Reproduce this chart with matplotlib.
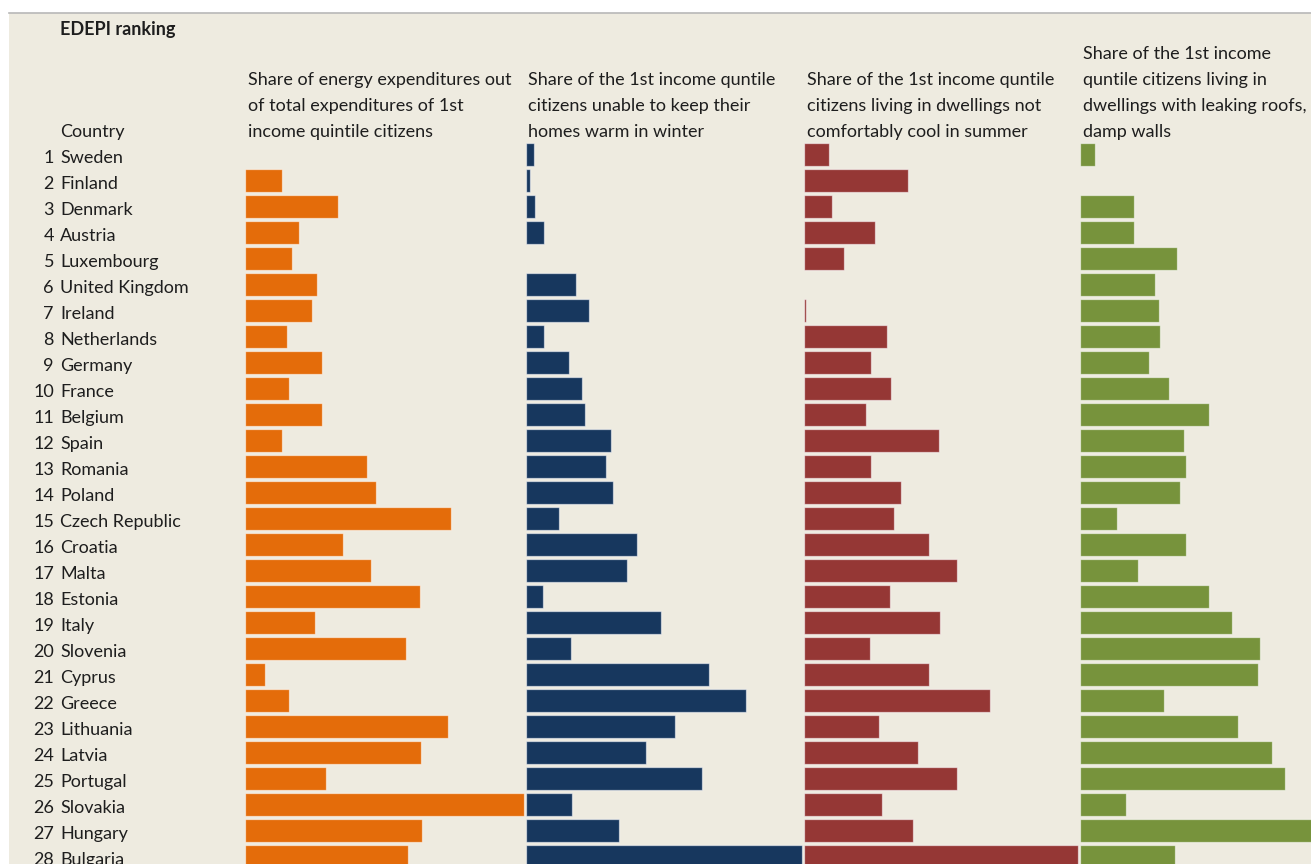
import matplotlib
matplotlib.use('Agg')
import matplotlib.pyplot as plt
from matplotlib.patches import Rectangle
from matplotlib.lines import Line2D

# ---------------- data ----------------
countries = ["Sweden", "Finland", "Denmark", "Austria", "Luxembourg", "United Kingdom",
             "Ireland", "Netherlands", "Germany", "France", "Belgium", "Spain", "Romania",
             "Poland", "Czech Republic", "Croatia", "Malta", "Estonia", "Italy", "Slovenia",
             "Cyprus", "Greece", "Lithuania", "Latvia", "Portugal", "Slovakia", "Hungary",
             "Bulgaria"]
ranks = list(range(1, 29))

# Share of energy expenditures out of total expenditures of 1st quintile (%)
energy_share = [0.0, 1.84, 4.68, 2.71, 2.37, 3.59, 3.37, 2.12, 3.88, 2.22, 3.88, 1.85, 6.10,
                6.58, 10.33, 4.91, 6.32, 8.77, 3.51, 8.07, 1.02, 2.22, 10.19, 8.82, 4.08,
                14.0, 8.89, 8.16]
# Share of 1st quintile unable to keep home warm in winter (%)
cold_winter = [1.9, 1.0, 2.1, 4.2, 0.0, 12.0, 15.0, 4.3, 10.2, 13.4, 14.1, 20.5, 19.2,
               20.8, 8.0, 26.6, 24.2, 4.0, 32.3, 10.9, 44.0, 52.8, 35.7, 28.9, 42.3,
               11.0, 22.3, 66.3]
# Share of 1st quintile living in dwellings not comfortably cool in summer (%)
hot_summer = [4.9, 20.7, 5.5, 14.2, 7.9, 0.0, 0.3, 16.5, 13.4, 17.3, 12.3, 26.9, 13.4,
              19.3, 18.0, 25.0, 30.5, 17.2, 27.1, 13.1, 24.9, 37.2, 14.9, 22.7, 30.5,
              15.5, 21.7, 54.7]
# Share of 1st quintile living in dwellings with leaking roofs, damp walls (%)
leaking_roofs = [2.3, 0.0, 8.1, 8.1, 14.6, 11.3, 11.8, 12.0, 10.4, 13.4, 19.4, 15.6, 15.9,
                 15.0, 5.6, 15.9, 8.7, 19.4, 22.8, 27.1, 26.8, 12.6, 23.7, 28.9, 30.8,
                 6.9, 41.0, 14.3]

headers = [
    ["Share of energy expenditures out", "of total expenditures of 1st",
     "income quintile citizens"],
    ["Share of the 1st income quntile", "citizens unable to keep their",
     "homes warm in winter"],
    ["Share of the 1st income quntile", "citizens living in dwellings not",
     "comfortably cool in summer"],
    ["Share of the 1st income", "quntile citizens living in",
     "dwellings with leaking roofs,", "damp walls"],
]
series = [energy_share, cold_winter, hot_summer, leaking_roofs]

# ---------------- style / layout ----------------
W, H = 1311, 864
colors = ['#E46C0A', '#17375E', '#953735', '#77933C']
bg = '#EEEBE0'
txt = '#1e1e1e'
font = 'Lato'
fs = 13.0
xmax = [14.09, 66.7, 55.2, 41.9]
panel_left = [245, 526, 804, 1080]
panel_width = [281, 278, 276, 279]
header_x = [248, 528, 807, 1083]
axes_top, row_h = 141.8, 26.0
dy = 2.0  # text baseline tweak

fig = plt.figure(figsize=(W / 100, H / 100), dpi=100)
fig.patch.set_facecolor('white')

def fx(x):
    return x / W

def fy(y):
    return 1 - y / H

# beige panel + top rule
fig.patches.append(Rectangle((fx(9), 0), 1, fy(12.5), transform=fig.transFigure,
                             facecolor=bg, edgecolor='none', zorder=-5))
fig.lines.append(Line2D([fx(9), 1], [fy(12.5), fy(12.5)], transform=fig.transFigure,
                        color='#b8b8b8', lw=1.2, zorder=-4))

n = len(countries)
bottom_px = axes_top + n * row_h
for k in range(4):
    ax = fig.add_axes([fx(panel_left[k]), fy(bottom_px), panel_width[k] / W,
                       (bottom_px - axes_top) / H])
    ax.set_facecolor('none')
    ax.set_zorder(2)
    vals = series[k]
    ys = [i + 1 for i, v in enumerate(vals) if v > 0]
    vs = [v for v in vals if v > 0]
    ax.barh(ys, vs, height=23 / 26, color=colors[k], edgecolor=(1, 1, 1, 0.55),
            linewidth=0.9)
    ax.set_xlim(0, xmax[k])
    ax.set_ylim(n + 0.5, 0.5)
    ax.axis('off')

# texts
fig.text(fx(60), fy(27 + dy), "EDEPI ranking", fontsize=fs, fontweight='bold',
         family=font, color=txt, va='center', ha='left')
fig.text(fx(60), fy(130 + dy), "Country", fontsize=fs, family=font, color=txt,
         va='center', ha='left')
for i, (r, c) in enumerate(zip(ranks, countries)):
    y = 156 + row_h * i + dy
    fig.text(fx(54), fy(y), str(r), fontsize=fs, family=font, color=txt,
             va='center', ha='right')
    fig.text(fx(60), fy(y), c, fontsize=fs, family=font, color=txt,
             va='center', ha='left')

for k in range(4):
    lines = headers[k]
    nl = len(lines)
    for j, line in enumerate(lines):
        y = 130 - row_h * (nl - 1 - j) + dy
        fig.text(fx(header_x[k]), fy(y), line, fontsize=fs, family=font, color=txt,
                 va='center', ha='left')

fig.savefig('out.png', dpi=100, facecolor=fig.get_facecolor())
